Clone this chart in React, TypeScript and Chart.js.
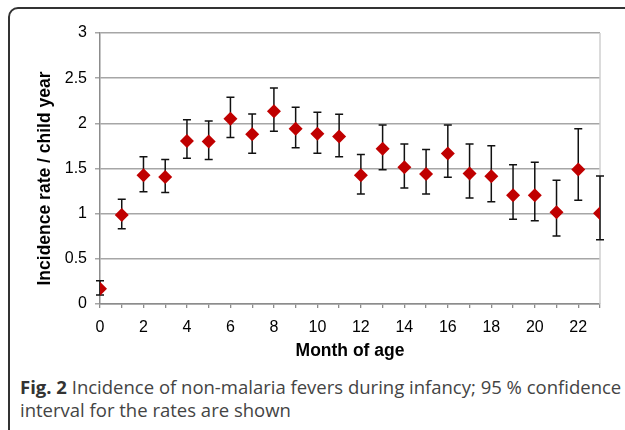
import React, { useEffect, useRef } from "react";
import { Chart, registerables } from "chart.js";

Chart.register(...registerables);

const months = [0, 1, 2, 3, 4, 5, 6, 7, 8, 9, 10, 11, 12, 13, 14, 15, 16, 17, 18, 19, 20, 21, 22, 23];
const rates = [0.17, 0.985, 1.425, 1.405, 1.805, 1.8, 2.05, 1.88, 2.135, 1.94, 1.885, 1.855, 1.425, 1.72, 1.515, 1.44, 1.665, 1.445, 1.415, 1.205, 1.205, 1.015, 1.49, 1.005];
const lower = [0.1, 0.833, 1.244, 1.233, 1.614, 1.6, 1.844, 1.67, 1.911, 1.729, 1.67, 1.63, 1.218, 1.485, 1.285, 1.218, 1.404, 1.174, 1.133, 0.937, 0.922, 0.752, 1.148, 0.711];
const upper = [0.256, 1.159, 1.63, 1.6, 2.04, 2.026, 2.29, 2.103, 2.392, 2.178, 2.122, 2.1, 1.655, 1.981, 1.77, 1.711, 1.981, 1.77, 1.752, 1.541, 1.57, 1.37, 1.941, 1.418];
const yTicks = [0, 0.5, 1, 1.5, 2, 2.5, 3];
const xLabelStep = 2;
const xTitle = "Month of age";
const yTitle = "Incidence rate / child year";

const FAMILY = "'Liberation Sans', Arial, sans-serif";

const errorBarPlugin = {
  id: "errorBars",
  beforeDatasetsDraw(chart: any) {
    const { ctx, scales } = chart;
    const xs = scales.x;
    const ys = scales.y;
    ctx.save();
    ctx.strokeStyle = "#111";
    ctx.lineWidth = 1.5;
    for (let i = 0; i < months.length; i++) {
      const x = xs.getPixelForValue(months[i]);
      const yl = ys.getPixelForValue(lower[i]);
      const yu = ys.getPixelForValue(upper[i]);
      ctx.beginPath();
      ctx.moveTo(x, yl);
      ctx.lineTo(x, yu);
      ctx.moveTo(x - 4, yl);
      ctx.lineTo(x + 4, yl);
      ctx.moveTo(x - 4, yu);
      ctx.lineTo(x + 4, yu);
      ctx.stroke();
    }
    ctx.restore();
  },
};

const rightBorderPlugin = {
  id: "rightBorder",
  beforeDatasetsDraw(chart: any) {
    const { ctx, chartArea } = chart;
    ctx.save();
    ctx.strokeStyle = "#cfcfcf";
    ctx.lineWidth = 1.5;
    ctx.beginPath();
    ctx.moveTo(chartArea.right, chartArea.top);
    ctx.lineTo(chartArea.right, chartArea.bottom);
    ctx.stroke();
    ctx.restore();
  },
};

// y-axis title, drawn a little below the plot-area centre as in the reference
const yTitlePlugin = {
  id: "yTitle",
  afterDraw(chart: any) {
    const { ctx, chartArea } = chart;
    ctx.save();
    ctx.translate(45, (chartArea.top + chartArea.bottom) / 2 + 10);
    ctx.rotate(-Math.PI / 2);
    ctx.font = `bold 17.5px ${FAMILY}`;
    ctx.fillStyle = "#000";
    ctx.textAlign = "center";
    ctx.textBaseline = "middle";
    ctx.fillText(yTitle, 0, 0);
    ctx.restore();
  },
};

function ChartCanvas() {
  const ref = useRef<HTMLCanvasElement | null>(null);
  useEffect(() => {
    if (!ref.current) return;
    const tickFont = { family: FAMILY, size: 16 };
    const chart = new Chart(ref.current, {
      type: "scatter",
      data: {
        datasets: [
          {
            data: months.map((m, i) => ({ x: m, y: rates[i] })),
            pointStyle: "rectRot",
            pointRadius: 7,
            pointHoverRadius: 7,
            backgroundColor: "#c00000",
            borderColor: "#c00000",
            borderWidth: 0,
          },
        ],
      },
      options: {
        animation: false,
        responsive: false,
        devicePixelRatio: 1,
        layout: { padding: { top: 33, right: 25, left: 0, bottom: 0 } },
        plugins: { legend: { display: false }, tooltip: { enabled: false } },
        scales: {
          x: {
            type: "linear",
            min: 0,
            max: 23,
            afterFit: (s: any) => {
              s.height = 66;
            },
            afterBuildTicks: (s: any) => {
              s.ticks = months.map((m) => ({ value: m }));
            },
            ticks: {
              autoSkip: false,
              maxRotation: 0,
              color: "#000",
              font: tickFont,
              padding: 10,
              callback: (v: any) => (Number(v) % xLabelStep === 0 && Number(v) < 23 ? String(v) : ""),
            },
            grid: { drawOnChartArea: false, tickLength: 4, color: "#8c8c8c", lineWidth: 1.3 },
            border: { color: "#8c8c8c", width: 1.5 },
            title: {
              display: true,
              text: xTitle,
              color: "#000",
              font: { family: FAMILY, size: 17.5, weight: "bold" },
              padding: { top: 0, bottom: 8 },
            },
          },
          y: {
            min: 0,
            max: 3,
            afterFit: (s: any) => {
              s.width = 100;
            },
            afterBuildTicks: (s: any) => {
              s.ticks = yTicks.map((v) => ({ value: v }));
            },
            ticks: { color: "#000", font: tickFont, padding: 8, callback: (v: any) => String(v) },
            grid: { color: "#a6a6a6", lineWidth: 1.5, tickLength: 5 },
            border: { color: "#8c8c8c", width: 1.5 },
            title: { display: false },
          },
        },
      },
      plugins: [rightBorderPlugin, errorBarPlugin, yTitlePlugin],
    });
    return () => chart.destroy();
  }, []);
  return <canvas ref={ref} width={625} height={370} style={{ position: "absolute", left: 0, top: 0, width: 625, height: 370 }} />;
}

export default function App() {
  return (
    <div style={{ position: "absolute", left: 0, top: 0, width: 625, height: 430, overflow: "hidden", background: "#fff" }}>
      <div
        style={{
          position: "absolute",
          left: 8,
          top: 7,
          width: 700,
          height: 500,
          border: "2px solid #333",
          borderRadius: 10,
          boxSizing: "border-box",
        }}
      />
      <ChartCanvas />
      <div
        style={{
          position: "absolute",
          left: 20,
          top: 375,
          fontFamily: "'Open Sans', sans-serif",
          fontSize: 18.5,
          lineHeight: "23px",
          color: "#444",
          whiteSpace: "nowrap",
        }}
      >
        <span style={{ fontWeight: "bold", color: "#333" }}>Fig. 2</span> Incidence of non-malaria fevers during infancy; 95 % confidence
        <br />
        interval for the rates are shown
      </div>
    </div>
  );
}
